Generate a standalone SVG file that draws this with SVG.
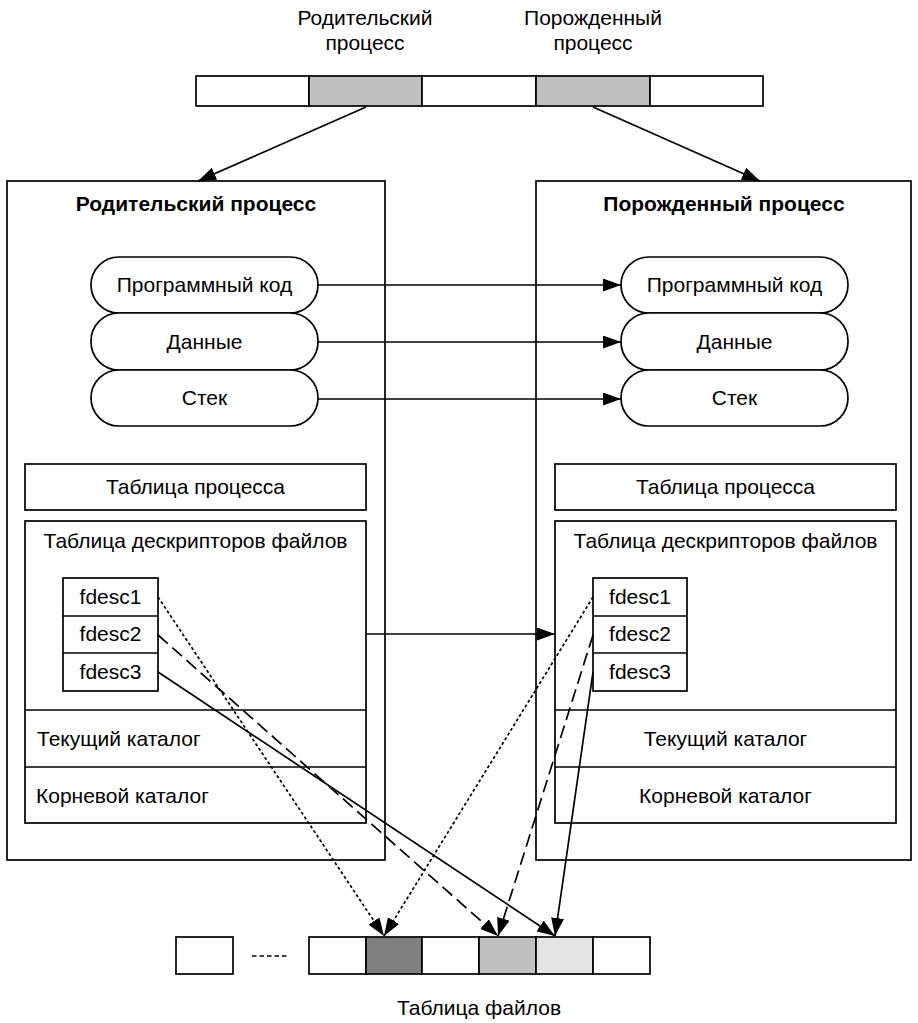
<svg xmlns="http://www.w3.org/2000/svg" width="918" height="1023" viewBox="0 0 918 1023">
  <defs>
    <marker id="arr" viewBox="0 0 18 13" refX="18" refY="6.5" markerWidth="18" markerHeight="13" markerUnits="userSpaceOnUse" orient="auto">
      <path d="M0,0 L18,6.5 L0,13 Z" fill="#000"/>
    </marker>
  </defs>
  <style>
    text { font-family: "Liberation Sans", Arial, sans-serif; font-size: 21px; fill: #000; }
    .c { text-anchor: middle; }
    .b { font-weight: bold; }
    .box { fill: #fff; stroke: #000; stroke-width: 1.7; }
    .g1 { fill: #c0c0c0; stroke: #000; stroke-width: 1.7; }
    .g2 { fill: #808080; stroke: #000; stroke-width: 1.7; }
    .g3 { fill: #e3e3e3; stroke: #000; stroke-width: 1.7; }
    .ln { fill: none; stroke: #000; stroke-width: 1.7; }
    .dot { stroke-dasharray: 3 2.5; }
    .dash { stroke-dasharray: 13 6; }
  </style>
  <rect width="918" height="1023" fill="#fff"/>

  <!-- process table -->
  <g id="process-table">
    <text class="c" x="365" y="25">Родительский</text>
    <text class="c" x="365" y="50">процесс</text>
    <text class="c" x="593" y="25">Порожденный</text>
    <text class="c" x="593" y="50">процесс</text>
    <rect class="box" x="196" y="76" width="113" height="30"/>
    <rect class="g1" x="309" y="76" width="113" height="30"/>
    <rect class="box" x="422" y="76" width="114" height="30"/>
    <rect class="g1" x="536" y="76" width="114" height="30"/>
    <rect class="box" x="650" y="76" width="113" height="30"/>
  </g>

  <!-- parent process -->
  <g id="parent">
    <rect class="box" x="7" y="181" width="378" height="679"/>
    <text class="c b" x="196" y="211">Родительский процесс</text>
    <rect class="box" x="91" y="257" width="227" height="56" rx="28"/>
    <text class="c" x="204.5" y="292">Программный код</text>
    <rect class="box" x="91" y="313" width="227" height="57" rx="28"/>
    <text class="c" x="204.5" y="349">Данные</text>
    <rect class="box" x="91" y="370" width="227" height="56" rx="28"/>
    <text class="c" x="204.5" y="405">Стек</text>
    <rect class="box" x="25" y="464" width="341" height="46"/>
    <text class="c" x="195.5" y="494">Таблица процесса</text>
    <rect class="box" x="25" y="521" width="341" height="302"/>
    <line class="ln" x1="25" y1="710" x2="366" y2="710"/>
    <line class="ln" x1="25" y1="767" x2="366" y2="767"/>
    <text class="c" x="195.5" y="548">Таблица дескрипторов файлов</text>
    <text x="37" y="746">Текущий каталог</text>
    <text x="36" y="803">Корневой каталог</text>
    <rect class="box" x="63" y="578" width="95" height="113"/>
    <line class="ln" x1="63" y1="616" x2="158" y2="616"/>
    <line class="ln" x1="63" y1="653" x2="158" y2="653"/>
    <text class="c" x="110.5" y="604">fdesc1</text>
    <text class="c" x="110.5" y="641">fdesc2</text>
    <text class="c" x="110.5" y="679">fdesc3</text>
  </g>

  <!-- child process -->
  <g id="child">
    <rect class="box" x="536" y="181" width="375" height="679"/>
    <text class="c b" x="724" y="211">Порожденный процесс</text>
    <rect class="box" x="621" y="257" width="227" height="56" rx="28"/>
    <text class="c" x="734.5" y="292">Программный код</text>
    <rect class="box" x="621" y="313" width="227" height="57" rx="28"/>
    <text class="c" x="734.5" y="349">Данные</text>
    <rect class="box" x="621" y="370" width="227" height="56" rx="28"/>
    <text class="c" x="734.5" y="405">Стек</text>
    <rect class="box" x="555" y="464" width="341" height="46"/>
    <text class="c" x="725.5" y="494">Таблица процесса</text>
    <rect class="box" x="555" y="521" width="341" height="302"/>
    <line class="ln" x1="555" y1="710" x2="896" y2="710"/>
    <line class="ln" x1="555" y1="767" x2="896" y2="767"/>
    <text class="c" x="725.5" y="548">Таблица дескрипторов файлов</text>
    <text class="c" x="725.5" y="746">Текущий каталог</text>
    <text class="c" x="725.5" y="803">Корневой каталог</text>
    <rect class="box" x="593" y="578" width="94" height="113"/>
    <line class="ln" x1="593" y1="616" x2="687" y2="616"/>
    <line class="ln" x1="593" y1="653" x2="687" y2="653"/>
    <text class="c" x="640" y="604">fdesc1</text>
    <text class="c" x="640" y="641">fdesc2</text>
    <text class="c" x="640" y="679">fdesc3</text>
  </g>

  <!-- file table -->
  <g id="file-table">
    <rect class="box" x="176" y="937" width="57" height="37"/>
    <line class="ln" x1="252" y1="956" x2="288" y2="956" stroke-dasharray="4.5 3"/>
    <rect class="box" x="309" y="937" width="57" height="37"/>
    <rect class="g2" x="366" y="937" width="56" height="37"/>
    <rect class="box" x="422" y="937" width="57" height="37"/>
    <rect class="g1" x="479" y="937" width="57" height="37"/>
    <rect class="g3" x="536" y="937" width="57" height="37"/>
    <rect class="box" x="593" y="937" width="57" height="37"/>
    <text class="c" x="479" y="1015">Таблица файлов</text>
  </g>

  <!-- connectors -->
  <g id="connectors">
    <line class="ln" x1="366" y1="107" x2="198" y2="181" marker-end="url(#arr)"/>
    <line class="ln" x1="593" y1="107" x2="760" y2="181" marker-end="url(#arr)"/>
    <line class="ln" x1="318" y1="285" x2="621" y2="285" marker-end="url(#arr)"/>
    <line class="ln" x1="318" y1="342" x2="621" y2="342" marker-end="url(#arr)"/>
    <line class="ln" x1="318" y1="399" x2="621" y2="399" marker-end="url(#arr)"/>
    <line class="ln" x1="366" y1="634" x2="555" y2="634" marker-end="url(#arr)"/>
    <line class="ln dot" x1="158" y1="597" x2="384" y2="936" marker-end="url(#arr)"/>
    <line class="ln dot" x1="593" y1="597" x2="384" y2="936" marker-end="url(#arr)"/>
    <line class="ln dash" x1="158" y1="635" x2="498" y2="936" marker-end="url(#arr)"/>
    <line class="ln dash" x1="593" y1="635" x2="498" y2="936" marker-end="url(#arr)"/>
    <line class="ln" x1="158" y1="672" x2="555" y2="936" marker-end="url(#arr)"/>
    <line class="ln" x1="593" y1="672" x2="555" y2="936" marker-end="url(#arr)"/>
  </g>
</svg>
